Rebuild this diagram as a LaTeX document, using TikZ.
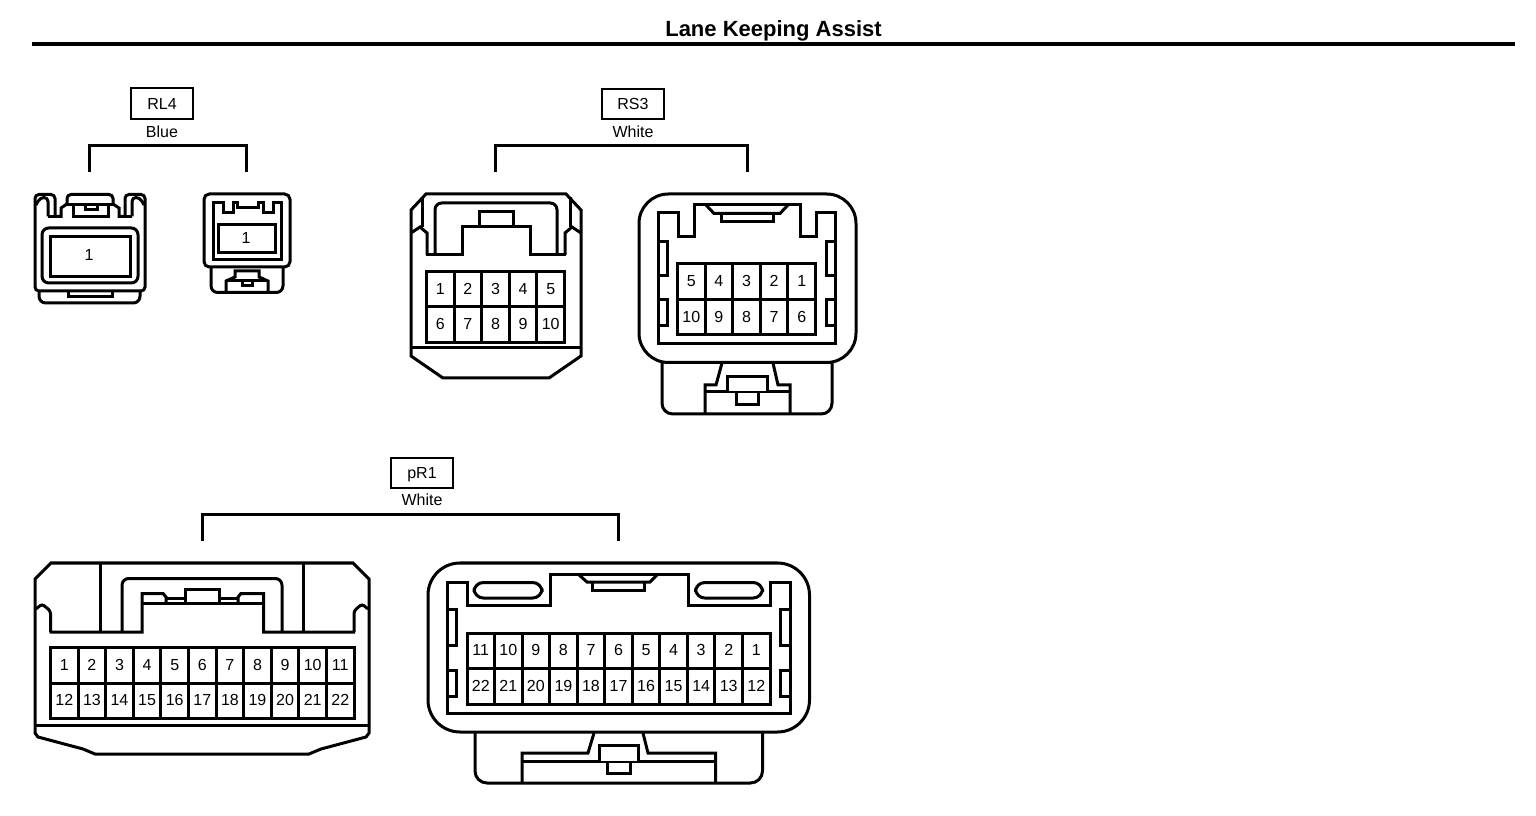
\documentclass[tikz,border=0pt]{standalone}
\usepackage{fontspec}
\setmainfont{Liberation Sans}
\tikzset{
  px/.style={x=0.75pt,y=-0.75pt},
  ln/.style={draw=black,line width=2.25pt,line join=miter,line cap=butt},
  num/.style={font=\fontsize{12}{12}\selectfont,inner sep=0pt,text=black},
  lab/.style={font=\fontsize{12}{12}\selectfont,inner sep=0pt,text=black},
  tagbox/.style={draw=black,line width=1.6pt,minimum width=47pt,minimum height=23pt,inner sep=0pt,text depth=0pt,font=\fontsize{12}{12}\selectfont}
}
\newcommand{\pingrid}[7]{% x0,y0,dx,dy,n,names row1,names row2
  \draw[ln] (#1,#2) rectangle ({#1+#3*#5},{#2+2*#4});
  \foreach \i in {1,...,#5}{\ifnum\i<#5 \draw[ln] ({#1+#3*\i},#2) -- ({#1+#3*\i},{#2+2*#4});\fi}
  \draw[ln] (#1,{#2+#4}) -- ({#1+#3*#5},{#2+#4});
  \foreach \t [count=\i] in {#6}{\node[num] (p#1a\i) at ({#1+#3*(\i-.5)},{#2+.5*#4-.5}) {\t};}
  \foreach \t [count=\i] in {#7}{\node[num] (p#1b\i) at ({#1+#3*(\i-.5)},{#2+1.5*#4-.5}) {\t};}
}
\begin{document}
\begin{tikzpicture}[px]
\useasboundingbox (0,0) rectangle (1536,816);
\fill[white] (0,0) rectangle (1536,816);
% title
\node[font=\bfseries\fontsize{16.5}{16.5}\selectfont,inner sep=0pt] (title) at (773.5,30.5) {Lane Keeping Assist};
\coordinate (ruleL) at (32,44); \coordinate (ruleR) at (1515,44);
\draw[draw=black,line width=3pt] (ruleL) -- (ruleR);
% ---------- RL4
\node[tagbox] (rl4) at (162,103.5) {RL4};
\node[lab] (rl4c) at (162,131.5) {Blue};
\coordinate (a1) at (89,172); \coordinate (a2) at (246,172);
\draw[ln] (a1) |- (166,146) -| (a2);
% left connector
\draw[ln,rounded corners=3pt] (55,216.5) -- (55,194.5) -- (35,194.5) -- (35,291) -- (145,291) -- (145,194.5) -- (125,194.5) -- (125,216.5);
\draw[ln] (55,216.5) -- (61,216.5) -- (61,208) -- (67,204);
\draw[ln,rounded corners=3pt] (67,206) -- (67,194.5) -- (113,194.5) -- (113,206);
\draw[ln] (113,204) -- (119,208) -- (119,216.5) -- (125,216.5);
\draw[ln,rounded corners=5pt] (39,291) -- (39,303) -- (140,303) -- (140,291);
\draw[ln] (68,291) -- (68,297) -- (112,297) -- (112,291);
\draw[ln,rounded corners=3pt] (36,205) -- (40,197.5) -- (48,197.5) -- (48,216.5);
\draw[ln] (48,216.5) -- (55,216.5);
\draw[ln,rounded corners=3pt] (144,205) -- (140,197.5) -- (132,197.5) -- (132,216.5);
\draw[ln] (132,216.5) -- (125,216.5);
\draw[ln] (65,204.5) -- (115,204.5);
\draw[ln] (73,204.5) rectangle (108,216.5);
\draw[ln] (85,204.5) -- (85,210) -- (97,210) -- (97,204.5);
\draw[ln,rounded corners=5pt] (42,228) rectangle (138,283);
\draw[ln] (50,237) rectangle (130,277);
\node[num] (rl4n1) at (89,255) {1};
% right connector
\draw[ln,rounded corners=4pt] (204,194) rectangle (290,267);
\draw[ln] (213,260) -- (213,202.5) -- (223,202.5) -- (223,213) -- (233,213) -- (233,202.5) -- (237,202.5) -- (237,208) -- (258,208) -- (258,202.5) -- (263,202.5) -- (263,213) -- (273,213) -- (273,202.5) -- (281,202.5) -- (281,260) -- cycle;
\draw[ln] (218.5,225) rectangle (275,253);
\node[num] (rl4n2) at (246,238) {1};
\draw[ln,rounded corners=5pt] (211,267) -- (211,292.5) -- (283,292.5) -- (283,267);
\draw[ln] (226,292.5) -- (226,281) -- (235,277) -- (235,271) -- (259,271) -- (259,277) -- (268,281) -- (268,292.5);
\draw[ln] (226,281) -- (268,281);
\draw[ln] (242,281) -- (242,286) -- (252,286) -- (252,281);
% ---------- RS3
\node[tagbox] (rs3) at (633,104) {RS3};
\node[lab] (rs3c) at (633,131.5) {White};
\coordinate (b1) at (495,172); \coordinate (b2) at (747,172);
\draw[ln] (b1) |- (621,146) -| (b2);
% left
\draw[ln] (411,348) -- (411,210) -- (426,194) -- (566,194) -- (581,210) -- (581,356) -- (549,378) -- (443,378) -- (411,356) -- cycle;
\draw[ln] (411,348) -- (581,348);
\draw[ln] (422,197) -- (422,227);
\draw[ln] (570,197) -- (570,227);
\draw[ln] (411,233) -- (420,227) -- (427,233) -- (427,255) (581,233) -- (572,227) -- (565,233) -- (565,255);
\draw[ln] (426,255) -- (462,255) -- (462,227) -- (530,227) -- (530,255) -- (566,255);
\draw[ln,rounded corners=5pt] (435,255) -- (435,203) -- (557,203) -- (557,255);
\draw[ln] (479,227) -- (479,212) -- (513,212) -- (513,227);
\pingrid{426.5}{271.5}{27.6}{35.5}{5}{1,2,3,4,5}{6,7,8,9,10}
% right
\draw[ln,rounded corners=22pt] (639,194) rectangle (856,362.5);
\draw[ln] (658,343.5) -- (658,213) -- (678.5,213) -- (678.5,237) -- (694,237) -- (694,205) -- (800,205) -- (800,237) -- (816,237) -- (816,213) -- (835.5,213) -- (835.5,343.5) -- cycle;
\draw[ln] (706,205) -- (714,213.5) -- (780,213.5) -- (788,205);
\draw[ln] (721,213.5) -- (721,221.5) -- (773,221.5) -- (773,213.5);
\draw[ln] (658,242) -- (667,242) -- (667,276) -- (658,276);
\draw[ln] (658,300) -- (667,300) -- (667,326) -- (658,326);
\draw[ln] (835.5,242) -- (826,242) -- (826,276) -- (835.5,276);
\draw[ln] (835.5,300) -- (826,300) -- (826,326) -- (835.5,326);
\pingrid{677.5}{264}{27.6}{35.5}{5}{5,4,3,2,1}{10,9,8,7,6}
\draw[ln,rounded corners=8pt] (662,362) -- (662,414) -- (832,414) -- (832,362);
\draw[ln] (705,414) -- (705,385) -- (716,385) -- (722,363);
\draw[ln] (790,414) -- (790,385) -- (778,385) -- (773,363);
\draw[ln] (705,391.5) -- (790,391.5);
\draw[ln,fill=white] (727,391.5) -- (727,377) -- (767,377) -- (767,391.5);
\draw[ln] (736,391.5) -- (736,404.5) -- (758,404.5) -- (758,391.5);
% ---------- pR1
\node[tagbox] (pr1) at (422,473) {pR1};
\node[lab] (pr1c) at (422,500) {White};
\coordinate (c1) at (202,541); \coordinate (c2) at (618,541);
\draw[ln] (c1) |- (410,515) -| (c2);
% left
\draw[ln] (35,579) -- (51,563) -- (353,563) -- (369,579) -- (369,733) -- (366,737) -- (321,749) -- (309,754) -- (95,754) -- (83,749) -- (38,737) -- (35,733) -- cycle;
\draw[ln] (35,725.5) -- (369,725.5);
\draw[ln,rounded corners=2pt] (36,609) -- (42,604) -- (50.5,611) -- (50.5,632);
\draw[ln,rounded corners=2pt] (368,609) -- (362,604) -- (354,611) -- (354,632);
\draw[ln] (49.5,632) -- (142,632) -- (142,593.5) -- (163,593.5) -- (166,597) -- (166,603);
\draw[ln] (355,632) -- (263.5,632) -- (263.5,593.5) -- (241,593.5) -- (238,597) -- (238,603);
\draw[ln] (142,603) -- (263.5,603);
\draw[ln] (166,598) -- (186,598) (219,598) -- (238,598);
\draw[ln] (185.5,603) -- (185.5,589) -- (219,589) -- (219,603);
\draw[ln] (100,632) -- (100,564) (303,632) -- (303,564);
\draw[ln,rounded corners=5pt] (122,632) -- (122,578.5) -- (282,578.5) -- (282,632);
\pingrid{50.5}{647.5}{27.6}{35.5}{11}{1,2,3,4,5,6,7,8,9,10,11}{12,13,14,15,16,17,18,19,20,21,22}
% right
\draw[ln,rounded corners=24pt] (428,563) rectangle (809.5,732);
\draw[ln] (447,713) -- (447,582) -- (467,582) -- (467,605) -- (550,605) -- (550,574) -- (688,574) -- (688,605) -- (770,605) -- (770,582) -- (790,582) -- (790,713) -- cycle;
\draw[ln] (578,574) -- (587,582) -- (650,582) -- (658,574);
\draw[ln] (592.5,582) -- (592.5,590.5) -- (644,590.5) -- (644,582);
\draw[ln,rounded corners=7pt] (474,582.5) rectangle (542,598);
\draw[ln,rounded corners=7pt] (695.5,582.5) rectangle (762.5,598);
\draw[ln] (447,609.5) -- (456.5,609.5) -- (456.5,645) -- (447,645);
\draw[ln] (447,670) -- (456.5,670) -- (456.5,696) -- (447,696);
\draw[ln] (790,609.5) -- (780.5,609.5) -- (780.5,645) -- (790,645);
\draw[ln] (790,670) -- (780.5,670) -- (780.5,696) -- (790,696);
\pingrid{467}{633}{27.55}{35.5}{11}{11,10,9,8,7,6,5,4,3,2,1}{22,21,20,19,18,17,16,15,14,13,12}
\draw[ln,rounded corners=9pt] (475,732) -- (475,783) -- (762.5,783) -- (762.5,732);
\draw[ln] (522,783) -- (522,753) -- (588,753) -- (594,733);
\draw[ln] (715.5,783) -- (715.5,753) -- (648,753) -- (643,733);
\draw[ln] (522,761) -- (715.5,761);
\draw[ln,fill=white] (599,761) -- (599,745) -- (638,745) -- (638,761);
\draw[ln] (607,761) -- (607,773) -- (630,773) -- (630,761);
\end{tikzpicture}
\end{document}
